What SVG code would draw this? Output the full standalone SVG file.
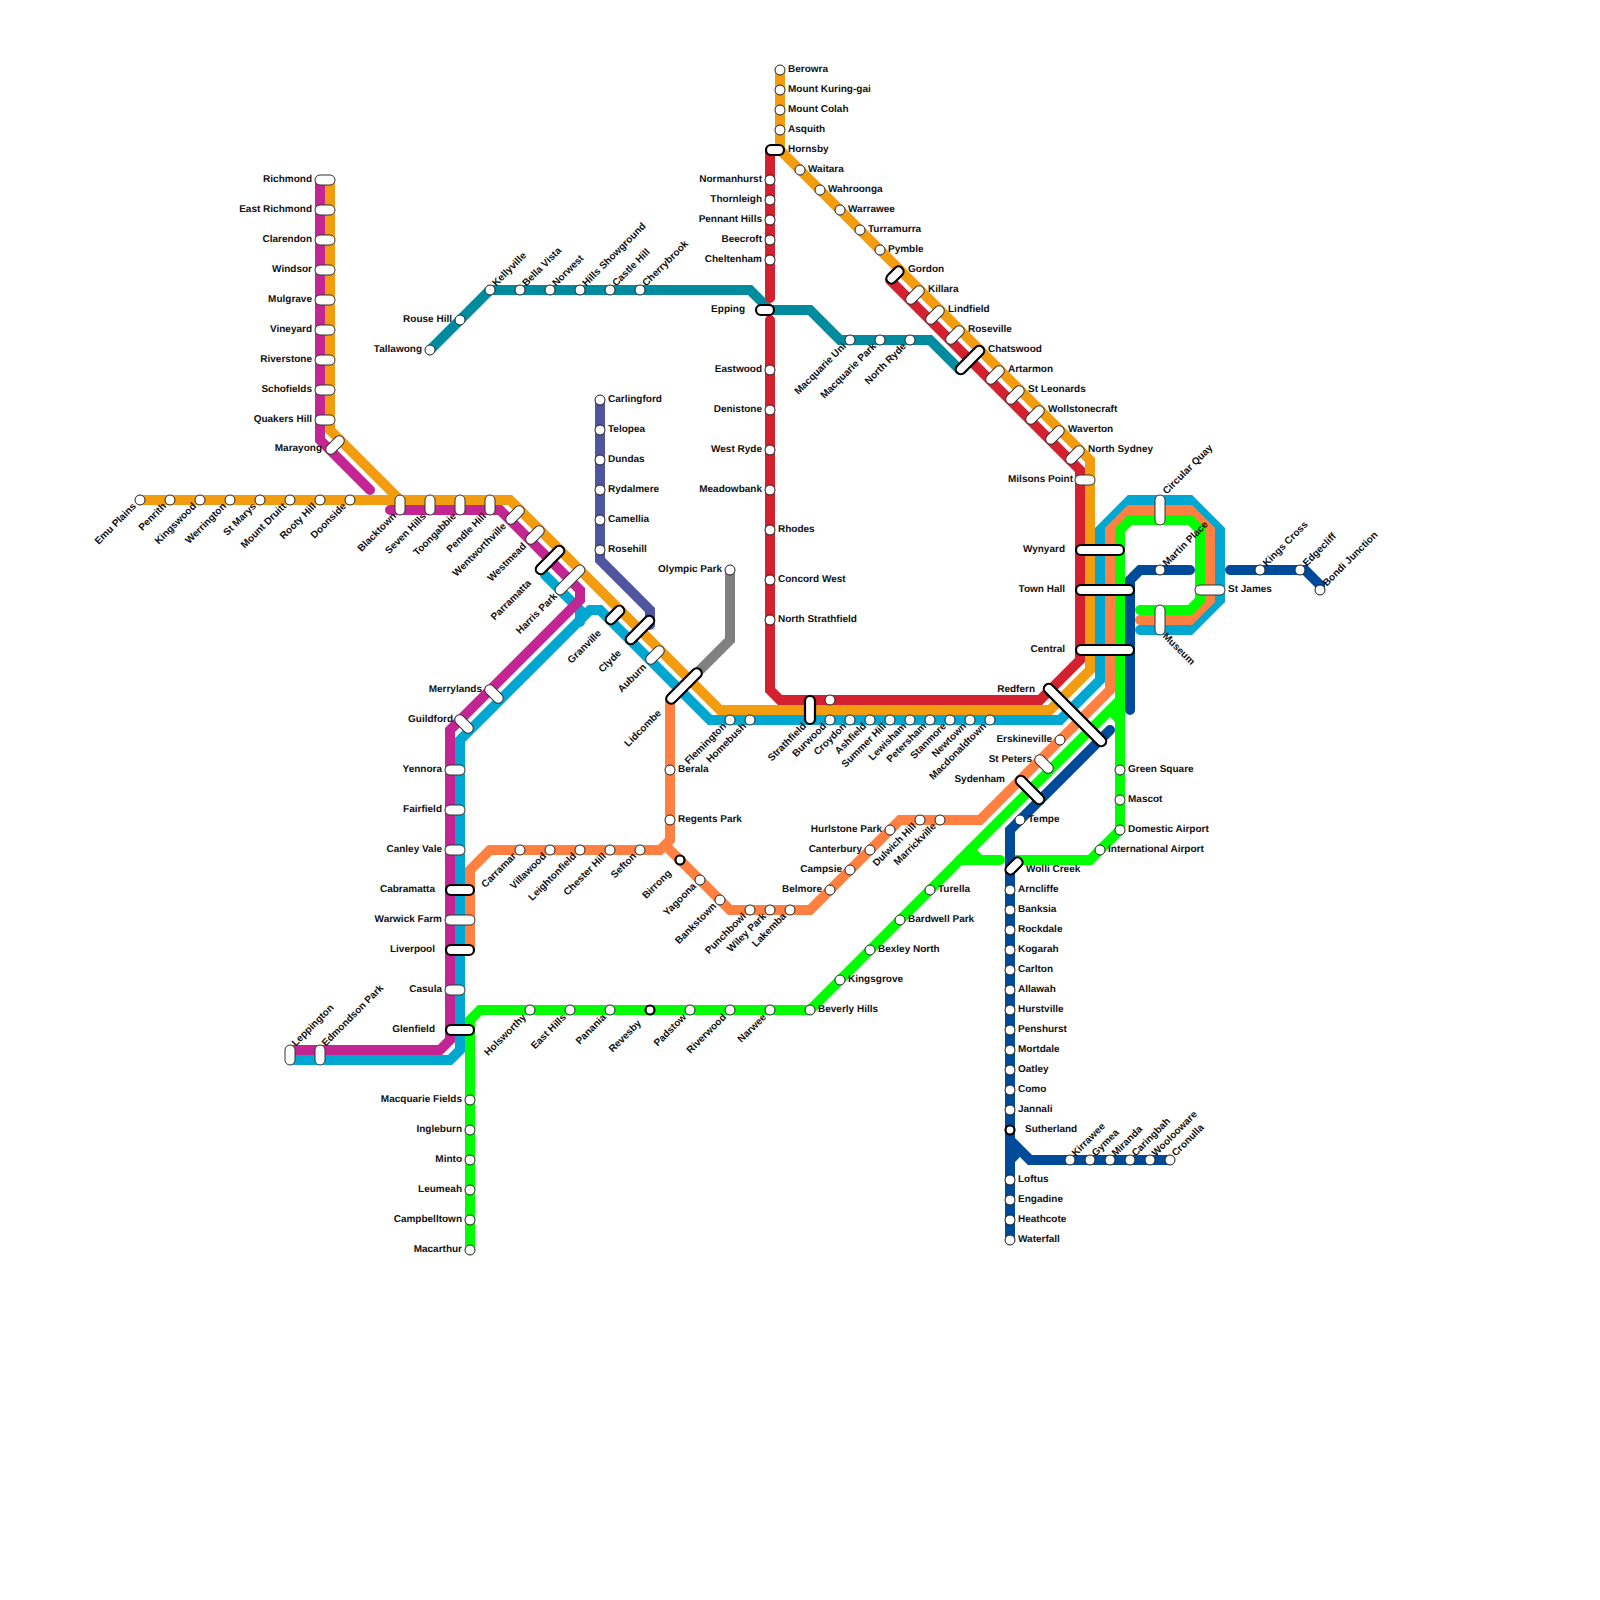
<svg xmlns="http://www.w3.org/2000/svg" width="1600" height="1600" viewBox="0 0 1600 1600">
<style>
.bg{fill:#fff}
.ln path{fill:none;stroke-width:10;stroke-linecap:round;stroke-linejoin:miter}
.c{fill:#fff;stroke:#222;stroke-width:1}
.t{fill:#fff;stroke:#333;stroke-width:1}
.k{fill:#fff;stroke:#000;stroke-width:2.2}
text{font:bold 10px "Liberation Sans",Arial,Helvetica,sans-serif;fill:#111;dominant-baseline:central;text-rendering:geometricPrecision}
text:not([transform]){transform:translateY(.7px)}
.l{text-anchor:end}
</style>
<rect class="bg" width="1600" height="1600"/>
<g id="connectors" class="ln">
<path stroke="#808080" d="M730,570V640L690,680"/>
<path stroke="#4f569e" d="M600,400V560L650,610V625"/>
<path stroke="#008b9f" d="M430,350L490,290H750L770,310H810L840,340H930L960,370"/>
<path stroke="#d4212f" d="M770,150V298M770,320V690L780,700H1040L1080,660V470L890,280"/>
<path stroke="#f19d0f" d="M780,70V150L1090,460V670L1050,710H720L510,500H140"/>
<path stroke="#f19d0f" d="M330,180V430L400,500"/>
<path stroke="#00a7d1" d="M1140,630H1190L1220,600V530L1190,500H1130L1100,530V680L1060,720H710L600,610H590L460,740V1050L450,1060H290"/>
<path stroke="#00a7d1" d="M545,575L580,610V622"/>
<path stroke="#c32692" d="M290,1050H440L450,1040V730L580,600V590L500,510H390"/>
<path stroke="#c32692" d="M320,180V440L370,490"/>
<path stroke="#ff8040" d="M670,700V840L660,850H490L470,870V950"/>
<path stroke="#ff8040" d="M670,850L730,910H810L900,820H980L1110,690V530L1130,510H1190L1210,530V600L1190,620H1140"/>
<path stroke="#0f0" d="M1120,830V530L1130,520H1190L1200,530V600L1190,610H1140"/>
<path stroke="#0f0" d="M1120,700L810,1010H480L470,1020V1250"/>
<path stroke="#0f0" d="M1120,830L1090,860H1015M960,860H1000M980,860L970,850M1110,710L1120,720"/>
<path stroke="#004a9a" d="M1010,1240V830L1110,730"/>
<path stroke="#004a9a" d="M1010,1140L1030,1160H1170M1010,1160L1015,1155"/>
<path stroke="#004a9a" d="M1130,710V580L1140,570H1190M1230,570H1305L1320,585V590"/>
</g>
<g id="stations">
<g id="s1"><circle class="c" cx="140" cy="500" r="5"/><text class="l" x="135" y="505" transform="rotate(-45 135 505)">Emu Plains</text></g>
<g id="s2"><circle class="c" cx="170" cy="500" r="5"/><text class="l" x="165" y="505" transform="rotate(-45 165 505)">Penrith</text></g>
<g id="s3"><circle class="c" cx="200" cy="500" r="5"/><text class="l" x="195" y="505" transform="rotate(-45 195 505)">Kingswood</text></g>
<g id="s4"><circle class="c" cx="230" cy="500" r="5"/><text class="l" x="225" y="505" transform="rotate(-45 225 505)">Werrington</text></g>
<g id="s5"><circle class="c" cx="260" cy="500" r="5"/><text class="l" x="255" y="505" transform="rotate(-45 255 505)">St Marys</text></g>
<g id="s6"><circle class="c" cx="290" cy="500" r="5"/><text class="l" x="285" y="505" transform="rotate(-45 285 505)">Mount Druitt</text></g>
<g id="s7"><circle class="c" cx="320" cy="500" r="5"/><text class="l" x="315" y="505" transform="rotate(-45 315 505)">Rooty Hill</text></g>
<g id="s8"><circle class="c" cx="350" cy="500" r="5"/><text class="l" x="345" y="505" transform="rotate(-45 345 505)">Doonside</text></g>
<g id="s9"><rect class="t" x="315" y="175" width="20" height="10" rx="5"/><text class="l" x="312" y="179">Richmond</text></g>
<g id="s10"><rect class="t" x="315" y="205" width="20" height="10" rx="5"/><text class="l" x="312" y="209">East Richmond</text></g>
<g id="s11"><rect class="t" x="315" y="235" width="20" height="10" rx="5"/><text class="l" x="312" y="239">Clarendon</text></g>
<g id="s12"><rect class="t" x="315" y="265" width="20" height="10" rx="5"/><text class="l" x="312" y="269">Windsor</text></g>
<g id="s13"><rect class="t" x="315" y="295" width="20" height="10" rx="5"/><text class="l" x="312" y="299">Mulgrave</text></g>
<g id="s14"><rect class="t" x="315" y="325" width="20" height="10" rx="5"/><text class="l" x="312" y="329">Vineyard</text></g>
<g id="s15"><rect class="t" x="315" y="355" width="20" height="10" rx="5"/><text class="l" x="312" y="359">Riverstone</text></g>
<g id="s16"><rect class="t" x="315" y="385" width="20" height="10" rx="5"/><text class="l" x="312" y="389">Schofields</text></g>
<g id="s17"><rect class="t" x="315" y="415" width="20" height="10" rx="5"/><text class="l" x="312" y="419">Quakers Hill</text></g>
<g id="s18"><rect class="t" x="324" y="440" width="22" height="10" rx="5" transform="rotate(-45 335 445)"/><text class="l" x="322" y="448">Marayong</text></g>
<g id="s19"><rect class="t" x="395" y="495" width="10" height="20" rx="5"/><text class="l" x="395" y="515" transform="rotate(-45 395 515)">Blacktown</text></g>
<g id="s20"><rect class="t" x="425" y="495" width="10" height="20" rx="5"/><text class="l" x="425" y="515" transform="rotate(-45 425 515)">Seven Hills</text></g>
<g id="s21"><rect class="t" x="455" y="495" width="10" height="20" rx="5"/><text class="l" x="455" y="515" transform="rotate(-45 455 515)">Toongabbie</text></g>
<g id="s22"><rect class="t" x="485" y="495" width="10" height="20" rx="5"/><text class="l" x="485" y="515" transform="rotate(-45 485 515)">Pendle Hill</text></g>
<g id="s23"><rect class="t" x="504" y="510" width="22" height="10" rx="5" transform="rotate(-45 515 515)"/><text class="l" x="505" y="525" transform="rotate(-45 505 525)">Wentworthville</text></g>
<g id="s24"><rect class="t" x="524" y="530" width="22" height="10" rx="5" transform="rotate(-45 535 535)"/><text class="l" x="525" y="545" transform="rotate(-45 525 545)">Westmead</text></g>
<g id="s25"><rect class="k" x="532" y="555" width="36" height="10" rx="5" transform="rotate(-45 550 560)"/><text class="l" x="530" y="582" transform="rotate(-45 530 582)">Parramatta</text></g>
<g id="s26"><rect class="t" x="551" y="575" width="38" height="10" rx="5" transform="rotate(-45 570 580)"/><text class="l" x="556" y="595" transform="rotate(-45 556 595)">Harris Park</text></g>
<g id="s27"><rect class="k" x="604" y="610" width="22" height="10" rx="5" transform="rotate(-45 615 615)"/><text class="l" x="600" y="632" transform="rotate(-45 600 632)">Granville</text></g>
<g id="s28"><rect class="k" x="622" y="625" width="36" height="10" rx="5" transform="rotate(-45 640 630)"/><text class="l" x="620" y="652" transform="rotate(-45 620 652)">Clyde</text></g>
<g id="s29"><rect class="t" x="644" y="650" width="22" height="10" rx="5" transform="rotate(-45 655 655)"/><text class="l" x="645" y="666" transform="rotate(-45 645 666)">Auburn</text></g>
<g id="s30"><rect class="k" x="661" y="681" width="46" height="10" rx="5" transform="rotate(-45 684 686)"/><text class="l" x="660" y="712" transform="rotate(-45 660 712)">Lidcombe</text></g>
<g id="s31"><rect class="t" x="483" y="689" width="22" height="10" rx="5" transform="rotate(45 494 694)"/><text class="l" x="482" y="689">Merrylands</text></g>
<g id="s32"><rect class="t" x="453" y="719" width="22" height="10" rx="5" transform="rotate(45 464 724)"/><text class="l" x="453" y="719">Guildford</text></g>
<g id="s33"><rect class="t" x="445" y="765" width="20" height="10" rx="5"/><text class="l" x="442" y="769">Yennora</text></g>
<g id="s34"><rect class="t" x="445" y="805" width="20" height="10" rx="5"/><text class="l" x="442" y="809">Fairfield</text></g>
<g id="s35"><rect class="t" x="445" y="845" width="20" height="10" rx="5"/><text class="l" x="442" y="849">Canley Vale</text></g>
<g id="s36"><rect class="k" x="446" y="885" width="28" height="10" rx="5"/><text class="l" x="435" y="889">Cabramatta</text></g>
<g id="s37"><rect class="t" x="445" y="915" width="30" height="10" rx="5"/><text class="l" x="442" y="919">Warwick Farm</text></g>
<g id="s38"><rect class="k" x="446" y="945" width="28" height="10" rx="5"/><text class="l" x="435" y="949">Liverpool</text></g>
<g id="s39"><rect class="t" x="445" y="985" width="20" height="10" rx="5"/><text class="l" x="442" y="989">Casula</text></g>
<g id="s40"><rect class="k" x="446" y="1025" width="28" height="10" rx="5"/><text class="l" x="435" y="1029">Glenfield</text></g>
<g id="s41"><rect class="t" x="285" y="1045" width="10" height="20" rx="5"/><text x="294" y="1045" transform="rotate(-45 294 1045)">Leppington</text></g>
<g id="s42"><rect class="t" x="315" y="1045" width="10" height="20" rx="5"/><text x="324" y="1045" transform="rotate(-45 324 1045)">Edmondson Park</text></g>
<g id="s43"><circle class="c" cx="470" cy="1100" r="5"/><text class="l" x="462" y="1099">Macquarie Fields</text></g>
<g id="s44"><circle class="c" cx="470" cy="1130" r="5"/><text class="l" x="462" y="1129">Ingleburn</text></g>
<g id="s45"><circle class="c" cx="470" cy="1160" r="5"/><text class="l" x="462" y="1159">Minto</text></g>
<g id="s46"><circle class="c" cx="470" cy="1190" r="5"/><text class="l" x="462" y="1189">Leumeah</text></g>
<g id="s47"><circle class="c" cx="470" cy="1220" r="5"/><text class="l" x="462" y="1219">Campbelltown</text></g>
<g id="s48"><circle class="c" cx="470" cy="1250" r="5"/><text class="l" x="462" y="1249">Macarthur</text></g>
<g id="s49"><circle class="c" cx="530" cy="1010" r="5"/><text class="l" x="525" y="1016" transform="rotate(-45 525 1016)">Holsworthy</text></g>
<g id="s50"><circle class="c" cx="570" cy="1010" r="5"/><text class="l" x="565" y="1016" transform="rotate(-45 565 1016)">East Hills</text></g>
<g id="s51"><circle class="c" cx="610" cy="1010" r="5"/><text class="l" x="605" y="1016" transform="rotate(-45 605 1016)">Panania</text></g>
<g id="s52"><circle class="k" cx="650" cy="1010" r="4.5"/><text class="l" x="640" y="1022" transform="rotate(-45 640 1022)">Revesby</text></g>
<g id="s53"><circle class="c" cx="690" cy="1010" r="5"/><text class="l" x="685" y="1016" transform="rotate(-45 685 1016)">Padstow</text></g>
<g id="s54"><circle class="c" cx="730" cy="1010" r="5"/><text class="l" x="725" y="1016" transform="rotate(-45 725 1016)">Riverwood</text></g>
<g id="s55"><circle class="c" cx="770" cy="1010" r="5"/><text class="l" x="765" y="1016" transform="rotate(-45 765 1016)">Narwee</text></g>
<g id="s56"><circle class="c" cx="810" cy="1010" r="5"/><text x="818" y="1009">Beverly Hills</text></g>
<g id="s57"><circle class="c" cx="840" cy="980" r="5"/><text x="848" y="979">Kingsgrove</text></g>
<g id="s58"><circle class="c" cx="870" cy="950" r="5"/><text x="878" y="949">Bexley North</text></g>
<g id="s59"><circle class="c" cx="900" cy="920" r="5"/><text x="908" y="919">Bardwell Park</text></g>
<g id="s60"><circle class="c" cx="930" cy="890" r="5"/><text x="938" y="889">Turella</text></g>
<g id="s61"><circle class="c" cx="780" cy="70" r="5"/><text x="788" y="69">Berowra</text></g>
<g id="s62"><circle class="c" cx="780" cy="90" r="5"/><text x="788" y="89">Mount Kuring-gai</text></g>
<g id="s63"><circle class="c" cx="780" cy="110" r="5"/><text x="788" y="109">Mount Colah</text></g>
<g id="s64"><circle class="c" cx="780" cy="130" r="5"/><text x="788" y="129">Asquith</text></g>
<g id="s65"><rect class="k" x="766" y="145" width="18" height="10" rx="5"/><text x="788" y="149">Hornsby</text></g>
<g id="s66"><circle class="c" cx="800" cy="170" r="5"/><text x="808" y="169">Waitara</text></g>
<g id="s67"><circle class="c" cx="820" cy="190" r="5"/><text x="828" y="189">Wahroonga</text></g>
<g id="s68"><circle class="c" cx="840" cy="210" r="5"/><text x="848" y="209">Warrawee</text></g>
<g id="s69"><circle class="c" cx="860" cy="230" r="5"/><text x="868" y="229">Turramurra</text></g>
<g id="s70"><circle class="c" cx="880" cy="250" r="5"/><text x="888" y="249">Pymble</text></g>
<g id="s71"><rect class="k" x="885" y="270" width="20" height="10" rx="5" transform="rotate(-45 895 275)"/><text x="908" y="269">Gordon</text></g>
<g id="s72"><rect class="t" x="904" y="290" width="22" height="10" rx="5" transform="rotate(-45 915 295)"/><text x="928" y="289">Killara</text></g>
<g id="s73"><rect class="t" x="924" y="310" width="22" height="10" rx="5" transform="rotate(-45 935 315)"/><text x="948" y="309">Lindfield</text></g>
<g id="s74"><rect class="t" x="944" y="330" width="22" height="10" rx="5" transform="rotate(-45 955 335)"/><text x="968" y="329">Roseville</text></g>
<g id="s75"><rect class="k" x="952" y="355" width="36" height="10" rx="5" transform="rotate(-45 970 360)"/><text x="988" y="349">Chatswood</text></g>
<g id="s76"><rect class="t" x="984" y="370" width="22" height="10" rx="5" transform="rotate(-45 995 375)"/><text x="1008" y="369">Artarmon</text></g>
<g id="s77"><rect class="t" x="1004" y="390" width="22" height="10" rx="5" transform="rotate(-45 1015 395)"/><text x="1028" y="389">St Leonards</text></g>
<g id="s78"><rect class="t" x="1024" y="410" width="22" height="10" rx="5" transform="rotate(-45 1035 415)"/><text x="1048" y="409">Wollstonecraft</text></g>
<g id="s79"><rect class="t" x="1044" y="430" width="22" height="10" rx="5" transform="rotate(-45 1055 435)"/><text x="1068" y="429">Waverton</text></g>
<g id="s80"><rect class="t" x="1064" y="450" width="22" height="10" rx="5" transform="rotate(-45 1075 455)"/><text x="1088" y="449">North Sydney</text></g>
<g id="s81"><rect class="t" x="1075" y="475" width="20" height="10" rx="5"/><text class="l" x="1073" y="479">Milsons Point</text></g>
<g id="s82"><rect class="k" x="1076" y="545" width="48" height="10" rx="5"/><text class="l" x="1065" y="549">Wynyard</text></g>
<g id="s83"><rect class="k" x="1076" y="585" width="58" height="10" rx="5"/><text class="l" x="1065" y="589">Town Hall</text></g>
<g id="s84"><rect class="k" x="1076" y="645" width="58" height="10" rx="5"/><text class="l" x="1065" y="649">Central</text></g>
<g id="s85"><rect class="k" x="1033" y="710" width="84" height="10" rx="5" transform="rotate(45 1075 715)"/><text class="l" x="1035" y="689">Redfern</text></g>
<g id="s86"><rect class="t" x="1155" y="495" width="10" height="30" rx="5"/><text x="1165" y="493" transform="rotate(-45 1165 493)">Circular Quay</text></g>
<g id="s87"><circle class="c" cx="1160" cy="570" r="5"/><text x="1165" y="565" transform="rotate(-45 1165 565)">Martin Place</text></g>
<g id="s88"><rect class="t" x="1195" y="585" width="30" height="10" rx="5"/><text x="1228" y="589">St James</text></g>
<g id="s89"><rect class="t" x="1155" y="605" width="10" height="30" rx="5"/><text x="1164" y="635" transform="rotate(45 1164 635)">Museum</text></g>
<g id="s90"><circle class="c" cx="1260" cy="570" r="5"/><text x="1265" y="565" transform="rotate(-45 1265 565)">Kings Cross</text></g>
<g id="s91"><circle class="c" cx="1300" cy="570" r="5"/><text x="1305" y="565" transform="rotate(-45 1305 565)">Edgecliff</text></g>
<g id="s92"><circle class="c" cx="1320" cy="590" r="5"/><text x="1325" y="585" transform="rotate(-45 1325 585)">Bondi Junction</text></g>
<g id="s93"><circle class="c" cx="770" cy="180" r="5"/><text class="l" x="762" y="179">Normanhurst</text></g>
<g id="s94"><circle class="c" cx="770" cy="200" r="5"/><text class="l" x="762" y="199">Thornleigh</text></g>
<g id="s95"><circle class="c" cx="770" cy="220" r="5"/><text class="l" x="762" y="219">Pennant Hills</text></g>
<g id="s96"><circle class="c" cx="770" cy="240" r="5"/><text class="l" x="762" y="239">Beecroft</text></g>
<g id="s97"><circle class="c" cx="770" cy="260" r="5"/><text class="l" x="762" y="259">Cheltenham</text></g>
<g id="s98"><rect class="k" x="756" y="305" width="18" height="10" rx="5"/><text class="l" x="745" y="309">Epping</text></g>
<g id="s99"><circle class="c" cx="770" cy="370" r="5"/><text class="l" x="762" y="369">Eastwood</text></g>
<g id="s100"><circle class="c" cx="770" cy="410" r="5"/><text class="l" x="762" y="409">Denistone</text></g>
<g id="s101"><circle class="c" cx="770" cy="450" r="5"/><text class="l" x="762" y="449">West Ryde</text></g>
<g id="s102"><circle class="c" cx="770" cy="490" r="5"/><text class="l" x="762" y="489">Meadowbank</text></g>
<g id="s103"><circle class="c" cx="770" cy="530" r="5"/><text x="778" y="529">Rhodes</text></g>
<g id="s104"><circle class="c" cx="770" cy="580" r="5"/><text x="778" y="579">Concord West</text></g>
<g id="s105"><circle class="c" cx="770" cy="620" r="5"/><text x="778" y="619">North Strathfield</text></g>
<g id="s106"><circle class="c" cx="430" cy="350" r="5"/><text class="l" x="422" y="349">Tallawong</text></g>
<g id="s107"><circle class="c" cx="460" cy="320" r="5"/><text class="l" x="452" y="319">Rouse Hill</text></g>
<g id="s108"><circle class="c" cx="490" cy="290" r="5"/><text x="494.5" y="285" transform="rotate(-45 494.5 285)">Kellyville</text></g>
<g id="s109"><circle class="c" cx="520" cy="290" r="5"/><text x="524.5" y="285" transform="rotate(-45 524.5 285)">Bella Vista</text></g>
<g id="s110"><circle class="c" cx="550" cy="290" r="5"/><text x="554.5" y="285" transform="rotate(-45 554.5 285)">Norwest</text></g>
<g id="s111"><circle class="c" cx="580" cy="290" r="5"/><text x="584.5" y="285" transform="rotate(-45 584.5 285)">Hills Showground</text></g>
<g id="s112"><circle class="c" cx="610" cy="290" r="5"/><text x="614.5" y="285" transform="rotate(-45 614.5 285)">Castle Hill</text></g>
<g id="s113"><circle class="c" cx="640" cy="290" r="5"/><text x="644.5" y="285" transform="rotate(-45 644.5 285)">Cherrybrook</text></g>
<g id="s114"><circle class="c" cx="850" cy="340" r="5"/><text class="l" x="845" y="345" transform="rotate(-45 845 345)">Macquarie Uni</text></g>
<g id="s115"><circle class="c" cx="880" cy="340" r="5"/><text class="l" x="875" y="345" transform="rotate(-45 875 345)">Macquarie Park</text></g>
<g id="s116"><circle class="c" cx="910" cy="340" r="5"/><text class="l" x="905" y="345" transform="rotate(-45 905 345)">North Ryde</text></g>
<g id="s117"><circle class="c" cx="600" cy="400" r="5"/><text x="608" y="399">Carlingford</text></g>
<g id="s118"><circle class="c" cx="600" cy="430" r="5"/><text x="608" y="429">Telopea</text></g>
<g id="s119"><circle class="c" cx="600" cy="460" r="5"/><text x="608" y="459">Dundas</text></g>
<g id="s120"><circle class="c" cx="600" cy="490" r="5"/><text x="608" y="489">Rydalmere</text></g>
<g id="s121"><circle class="c" cx="600" cy="520" r="5"/><text x="608" y="519">Camellia</text></g>
<g id="s122"><circle class="c" cx="600" cy="550" r="5"/><text x="608" y="549">Rosehill</text></g>
<g id="s123"><circle class="c" cx="730" cy="570" r="5"/><text class="l" x="722" y="569">Olympic Park</text></g>
<g id="s124"><circle class="c" cx="730" cy="720" r="5"/><text class="l" x="725" y="725" transform="rotate(-45 725 725)">Flemington</text></g>
<g id="s125"><circle class="c" cx="750" cy="720" r="5"/><text class="l" x="745" y="725" transform="rotate(-45 745 725)">Homebush</text></g>
<g id="s126"><rect class="k" x="805" y="696" width="10" height="28" rx="5"/><text class="l" x="805" y="725" transform="rotate(-45 805 725)">Strathfield</text></g>
<g id="s127"><circle class="c" cx="830" cy="700" r="5"/><circle class="c" cx="830" cy="720" r="5"/><text class="l" x="825" y="725" transform="rotate(-45 825 725)">Burwood</text></g>
<g id="s128"><circle class="c" cx="850" cy="720" r="5"/><text class="l" x="845" y="725" transform="rotate(-45 845 725)">Croydon</text></g>
<g id="s129"><circle class="c" cx="870" cy="720" r="5"/><text class="l" x="865" y="725" transform="rotate(-45 865 725)">Ashfield</text></g>
<g id="s130"><circle class="c" cx="890" cy="720" r="5"/><text class="l" x="885" y="725" transform="rotate(-45 885 725)">Summer Hill</text></g>
<g id="s131"><circle class="c" cx="910" cy="720" r="5"/><text class="l" x="905" y="725" transform="rotate(-45 905 725)">Lewisham</text></g>
<g id="s132"><circle class="c" cx="930" cy="720" r="5"/><text class="l" x="925" y="725" transform="rotate(-45 925 725)">Petersham</text></g>
<g id="s133"><circle class="c" cx="950" cy="720" r="5"/><text class="l" x="945" y="725" transform="rotate(-45 945 725)">Stanmore</text></g>
<g id="s134"><circle class="c" cx="970" cy="720" r="5"/><text class="l" x="965" y="725" transform="rotate(-45 965 725)">Newtown</text></g>
<g id="s135"><circle class="c" cx="990" cy="720" r="5"/><text class="l" x="985" y="725" transform="rotate(-45 985 725)">Macdonaldtown</text></g>
<g id="s136"><circle class="c" cx="670" cy="770" r="5"/><text x="678" y="769">Berala</text></g>
<g id="s137"><circle class="c" cx="670" cy="820" r="5"/><text x="678" y="819">Regents Park</text></g>
<g id="s138"><circle class="c" cx="520" cy="850" r="5"/><text class="l" x="515" y="855" transform="rotate(-45 515 855)">Carramar</text></g>
<g id="s139"><circle class="c" cx="550" cy="850" r="5"/><text class="l" x="545" y="855" transform="rotate(-45 545 855)">Villawood</text></g>
<g id="s140"><circle class="c" cx="580" cy="850" r="5"/><text class="l" x="575" y="855" transform="rotate(-45 575 855)">Leightonfield</text></g>
<g id="s141"><circle class="c" cx="610" cy="850" r="5"/><text class="l" x="605" y="855" transform="rotate(-45 605 855)">Chester Hill</text></g>
<g id="s142"><circle class="c" cx="640" cy="850" r="5"/><text class="l" x="635" y="855" transform="rotate(-45 635 855)">Sefton</text></g>
<g id="s143"><circle class="k" cx="680" cy="860" r="4.5"/><text class="l" x="670" y="872" transform="rotate(-45 670 872)">Birrong</text></g>
<g id="s144"><circle class="c" cx="700" cy="880" r="5"/><text class="l" x="695" y="885" transform="rotate(-45 695 885)">Yagoona</text></g>
<g id="s145"><circle class="c" cx="720" cy="900" r="5"/><text class="l" x="715" y="905" transform="rotate(-45 715 905)">Bankstown</text></g>
<g id="s146"><circle class="c" cx="750" cy="910" r="5"/><text class="l" x="745" y="915" transform="rotate(-45 745 915)">Punchbowl</text></g>
<g id="s147"><circle class="c" cx="770" cy="910" r="5"/><text class="l" x="765" y="915" transform="rotate(-45 765 915)">Wiley Park</text></g>
<g id="s148"><circle class="c" cx="790" cy="910" r="5"/><text class="l" x="785" y="915" transform="rotate(-45 785 915)">Lakemba</text></g>
<g id="s149"><circle class="c" cx="830" cy="890" r="5"/><text class="l" x="822" y="889">Belmore</text></g>
<g id="s150"><circle class="c" cx="850" cy="870" r="5"/><text class="l" x="842" y="869">Campsie</text></g>
<g id="s151"><circle class="c" cx="870" cy="850" r="5"/><text class="l" x="862" y="849">Canterbury</text></g>
<g id="s152"><circle class="c" cx="890" cy="830" r="5"/><text class="l" x="882" y="829">Hurlstone Park</text></g>
<g id="s153"><circle class="c" cx="920" cy="820" r="5"/><text class="l" x="915" y="825" transform="rotate(-45 915 825)">Dulwich Hill</text></g>
<g id="s154"><circle class="c" cx="940" cy="820" r="5"/><text class="l" x="935" y="825" transform="rotate(-45 935 825)">Marrickville</text></g>
<g id="s155"><rect class="k" x="1012" y="785" width="36" height="10" rx="5" transform="rotate(45 1030 790)"/><text class="l" x="1005" y="779">Sydenham</text></g>
<g id="s156"><rect class="t" x="1033" y="759" width="22" height="10" rx="5" transform="rotate(45 1044 764)"/><text class="l" x="1032" y="759">St Peters</text></g>
<g id="s157"><circle class="c" cx="1060" cy="740" r="5"/><text class="l" x="1052" y="739">Erskineville</text></g>
<g id="s158"><circle class="c" cx="1120" cy="770" r="5"/><text x="1128" y="769">Green Square</text></g>
<g id="s159"><circle class="c" cx="1120" cy="800" r="5"/><text x="1128" y="799">Mascot</text></g>
<g id="s160"><circle class="c" cx="1120" cy="830" r="5"/><text x="1128" y="829">Domestic Airport</text></g>
<g id="s161"><circle class="c" cx="1100" cy="850" r="5"/><text x="1108" y="849">International Airport</text></g>
<g id="s162"><circle class="c" cx="1020" cy="820" r="5"/><text x="1028" y="819">Tempe</text></g>
<g id="s163"><rect class="k" x="1004" y="861" width="20" height="10" rx="5" transform="rotate(-45 1014 866)"/><text x="1026" y="869">Wolli Creek</text></g>
<g id="s164"><circle class="c" cx="1010" cy="890" r="5"/><text x="1018" y="889">Arncliffe</text></g>
<g id="s165"><circle class="c" cx="1010" cy="910" r="5"/><text x="1018" y="909">Banksia</text></g>
<g id="s166"><circle class="c" cx="1010" cy="930" r="5"/><text x="1018" y="929">Rockdale</text></g>
<g id="s167"><circle class="c" cx="1010" cy="950" r="5"/><text x="1018" y="949">Kogarah</text></g>
<g id="s168"><circle class="c" cx="1010" cy="970" r="5"/><text x="1018" y="969">Carlton</text></g>
<g id="s169"><circle class="c" cx="1010" cy="990" r="5"/><text x="1018" y="989">Allawah</text></g>
<g id="s170"><circle class="c" cx="1010" cy="1010" r="5"/><text x="1018" y="1009">Hurstville</text></g>
<g id="s171"><circle class="c" cx="1010" cy="1030" r="5"/><text x="1018" y="1029">Penshurst</text></g>
<g id="s172"><circle class="c" cx="1010" cy="1050" r="5"/><text x="1018" y="1049">Mortdale</text></g>
<g id="s173"><circle class="c" cx="1010" cy="1070" r="5"/><text x="1018" y="1069">Oatley</text></g>
<g id="s174"><circle class="c" cx="1010" cy="1090" r="5"/><text x="1018" y="1089">Como</text></g>
<g id="s175"><circle class="c" cx="1010" cy="1110" r="5"/><text x="1018" y="1109">Jannali</text></g>
<g id="s176"><circle class="k" cx="1010" cy="1130" r="4.5"/><text x="1025" y="1129">Sutherland</text></g>
<g id="s177"><circle class="c" cx="1010" cy="1180" r="5"/><text x="1018" y="1179">Loftus</text></g>
<g id="s178"><circle class="c" cx="1010" cy="1200" r="5"/><text x="1018" y="1199">Engadine</text></g>
<g id="s179"><circle class="c" cx="1010" cy="1220" r="5"/><text x="1018" y="1219">Heathcote</text></g>
<g id="s180"><circle class="c" cx="1010" cy="1240" r="5"/><text x="1018" y="1239">Waterfall</text></g>
<g id="s181"><circle class="c" cx="1070" cy="1160" r="5"/><text x="1074" y="1155" transform="rotate(-45 1074 1155)">Kirrawee</text></g>
<g id="s182"><circle class="c" cx="1090" cy="1160" r="5"/><text x="1094" y="1155" transform="rotate(-45 1094 1155)">Gymea</text></g>
<g id="s183"><circle class="c" cx="1110" cy="1160" r="5"/><text x="1114" y="1155" transform="rotate(-45 1114 1155)">Miranda</text></g>
<g id="s184"><circle class="c" cx="1130" cy="1160" r="5"/><text x="1134" y="1155" transform="rotate(-45 1134 1155)">Caringbah</text></g>
<g id="s185"><circle class="c" cx="1150" cy="1160" r="5"/><text x="1154" y="1155" transform="rotate(-45 1154 1155)">Woolooware</text></g>
<g id="s186"><circle class="c" cx="1170" cy="1160" r="5"/><text x="1174" y="1155" transform="rotate(-45 1174 1155)">Cronulla</text></g>
</g>
</svg>
